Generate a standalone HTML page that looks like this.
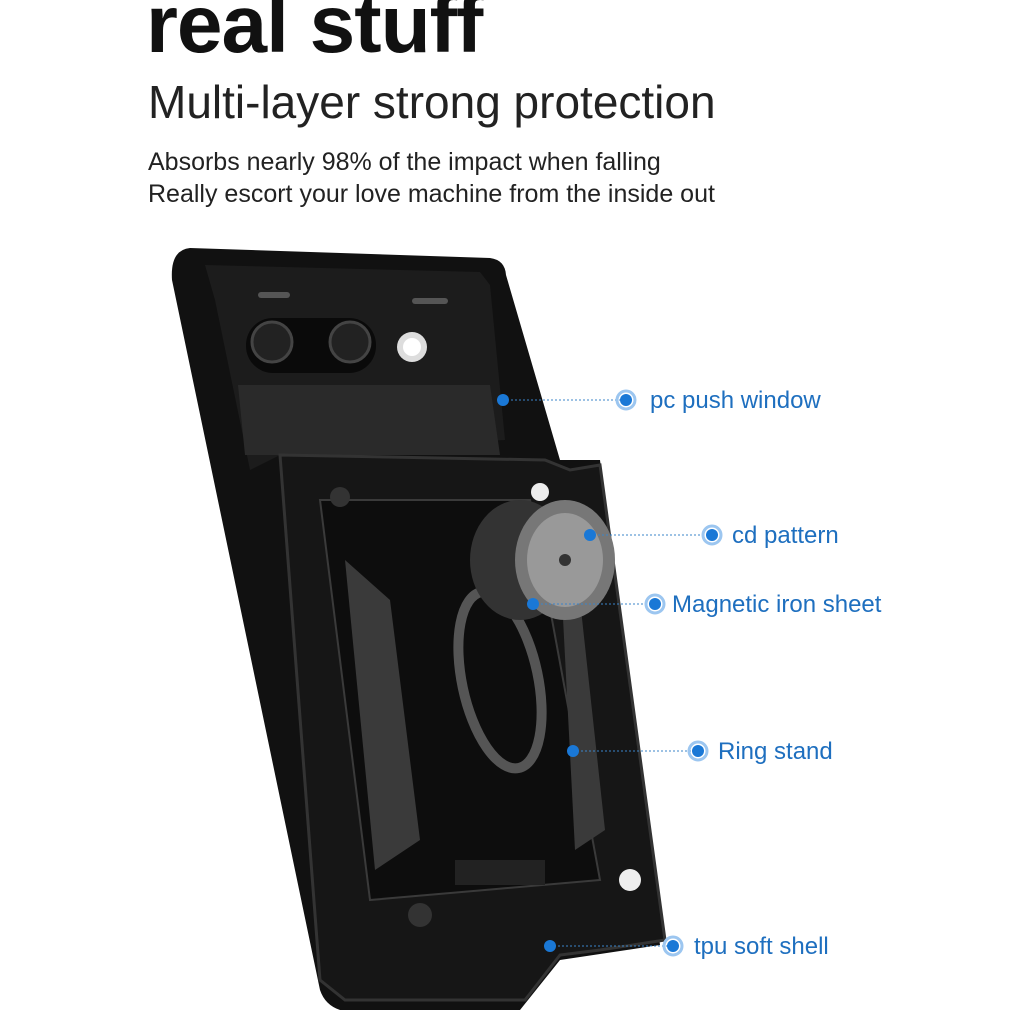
<!DOCTYPE html>
<html><head><meta charset="utf-8"><style>
html,body{margin:0;padding:0;background:#fff;}
body{width:1024px;height:1024px;overflow:hidden;position:relative;font-family:"Liberation Sans",sans-serif;}
.t{position:absolute;white-space:nowrap;color:#111;}
</style></head><body>
<div class="t" style="left:146px;top:-22px;font-size:82px;font-weight:bold;letter-spacing:-1px;">real stuff</div>
<div class="t" style="left:148px;top:75px;font-size:46px;color:#222;">Multi-layer strong protection</div>
<div class="t" style="left:148px;top:148px;font-size:25px;color:#222;">Absorbs nearly 98% of the impact when falling</div>
<div class="t" style="left:148px;top:180px;font-size:25px;color:#222;">Really escort your love machine from the inside out</div>
<svg width="1024" height="1024" style="position:absolute;left:0;top:0">
<path d="M190 248 L490 258 Q505 260 506 275 L560 460 L600 460 L660 945 L560 960 L520 1010 L340 1010 Q325 1005 320 990 L172 280 Q170 250 190 248 Z" fill="#111"/>
<path d="M205 265 L480 272 L490 285 L505 440 L290 450 L250 470 L215 300 Z" fill="#1c1c1c"/>
<rect x="246" y="318" width="130" height="55" rx="27" fill="#0a0a0a"/>
<circle cx="272" cy="342" r="20" fill="#222" stroke="#444" stroke-width="3"/>
<circle cx="350" cy="342" r="20" fill="#222" stroke="#444" stroke-width="3"/>
<circle cx="412" cy="347" r="15" fill="#ddd"/>
<circle cx="412" cy="347" r="9" fill="#fff"/>
<rect x="258" y="292" width="32" height="6" rx="3" fill="#555"/>
<rect x="412" y="298" width="36" height="6" rx="3" fill="#555"/>
<path d="M238 385 L490 385 L500 455 L245 455 Z" fill="#2a2a2a"/>
<path d="M280 455 L545 460 L570 470 L600 465 L665 940 L600 950 L560 955 L525 1000 L345 1000 L320 980 Z" fill="#161616" stroke="#333" stroke-width="3"/>
<path d="M320 500 L530 500 L600 880 L370 900 Z" fill="#0d0d0d" stroke="#3a3a3a" stroke-width="2"/>
<path d="M345 560 L390 600 L420 840 L375 870 Z" fill="#3a3a3a"/>
<path d="M560 560 L580 600 L605 830 L575 850 Z" fill="#3a3a3a"/>
<rect x="455" y="860" width="90" height="25" fill="#222"/>
<circle cx="340" cy="497" r="10" fill="#333"/>
<circle cx="540" cy="492" r="9" fill="#eee"/>
<circle cx="630" cy="880" r="11" fill="#eee"/>
<circle cx="420" cy="915" r="12" fill="#333"/>
<ellipse cx="500" cy="680" rx="38" ry="90" fill="none" stroke="#555" stroke-width="10" transform="rotate(-12 500 680)"/>
<ellipse cx="520" cy="560" rx="50" ry="60" fill="#333"/>
<ellipse cx="565" cy="560" rx="50" ry="60" fill="#777"/>
<ellipse cx="565" cy="560" rx="38" ry="47" fill="#999"/>
<circle cx="565" cy="560" r="6" fill="#333"/>
<g stroke="#3b84c9" stroke-width="1" stroke-dasharray="2 2" fill="none">
<line x1="503" y1="400" x2="626" y2="400"/>
<line x1="590" y1="535" x2="712" y2="535"/>
<line x1="533" y1="604" x2="655" y2="604"/>
<line x1="573" y1="751" x2="698" y2="751"/>
<line x1="550" y1="946" x2="673" y2="946"/>
</g>
<g fill="#1a78d6">
<circle cx="503" cy="400" r="6"/><circle cx="626" cy="400" r="6"/>
<circle cx="590" cy="535" r="6"/><circle cx="712" cy="535" r="6"/>
<circle cx="533" cy="604" r="6"/><circle cx="655" cy="604" r="6"/>
<circle cx="573" cy="751" r="6"/><circle cx="698" cy="751" r="6"/>
<circle cx="550" cy="946" r="6"/><circle cx="673" cy="946" r="6"/>
</g>
<g fill="none" stroke="#9cc6f0" stroke-width="3">
<circle cx="626" cy="400" r="9"/><circle cx="712" cy="535" r="9"/><circle cx="655" cy="604" r="9"/><circle cx="698" cy="751" r="9"/><circle cx="673" cy="946" r="9"/>
</g>
<g font-family="Liberation Sans, sans-serif" font-size="24" fill="#1e6fbf">
<text x="650" y="408">pc push window</text>
<text x="732" y="543">cd pattern</text>
<text x="672" y="612">Magnetic iron sheet</text>
<text x="718" y="759">Ring stand</text>
<text x="694" y="954">tpu soft shell</text>
</g>
</svg>
</body></html>
